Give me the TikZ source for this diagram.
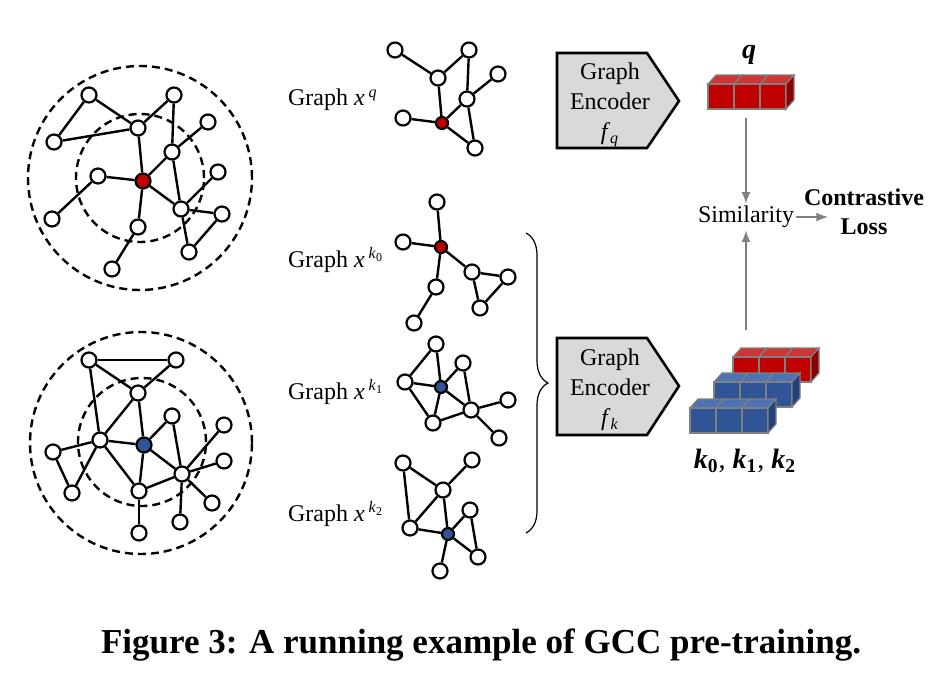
\documentclass[tikz,border=0pt]{standalone}
\usepackage{fontspec}
\setmainfont{Liberation Serif}
\usepackage{tikz}
\usetikzlibrary{decorations.pathreplacing,arrows}

\definecolor{nodered}{HTML}{C00000}
\definecolor{nodeblue}{HTML}{2F5597}
\definecolor{redtop}{HTML}{D03535}
\definecolor{redside}{HTML}{8E0000}
\definecolor{bluetop}{HTML}{4F72B3}
\definecolor{blueside}{HTML}{22407A}
\definecolor{cubeedge}{HTML}{808080}

% three cubes: x, y, front, top, side
\newcommand\cuberow[5]{%
  \foreach \i in {0,1,2}{
    \filldraw[fill=#4,draw=cubeedge,line width=0.6pt] (#1+26*\i,#2) -- (#1+26*\i+8,#2-9) -- (#1+26*\i+34,#2-9) -- (#1+26*\i+26,#2) -- cycle;
    \filldraw[fill=#3,draw=cubeedge,line width=0.6pt] (#1+26*\i,#2) rectangle (#1+26*\i+26,#2+25);
  }
  \filldraw[fill=#5,draw=cubeedge,line width=0.6pt] (#1+78,#2) -- (#1+86,#2-9) -- (#1+86,#2+16) -- (#1+78,#2+25) -- cycle;
}

\begin{document}
\begin{tikzpicture}[x=0.5pt,y=-0.5pt,
                    vtx/.style={circle,draw,fill=white,line width=1.1pt,
                    minimum size=7.5pt,inner sep=0pt},
                    ctr/.style={vtx,fill=#1},
                    smallctr/.style={vtx,fill=#1,minimum size=6pt},
                    edge/.style={line width=1.2pt},
                    ring/.style={dash pattern=on 4pt off 2.5pt,line width=1.2pt},
                    lbl/.style={font=\fontsize{12}{15}\selectfont},
                    encbox/.style={fill=black!15,draw,line width=1.3pt,line join=miter},
                    enctxt/.style={lbl,align=center,inner sep=0pt},
                    garr/.style={draw=cubeedge,line width=1pt,-latex},
                    vlbl/.style={font=\fontsize{14}{16}\selectfont},
                    brc/.style={decorate,decoration={brace,amplitude=11pt},line width=0.6pt}]
    \useasboundingbox (0,0) rectangle (934,675);

    % left: sampled neighbourhoods
    \draw[ring] (140,178) circle [radius=56pt];
    \draw[ring] (140,178) circle [radius=32pt];
    \foreach \n/\x/\y in {a1/89/95,a2/174/95,a3/54/142,a4/138/128,a5/208/122,
                          a6/172/152,a7/98/176,a8/218/172,a9/181/209,a10/222/214,
                          a11/138/227,a12/52/219,a13/189/252,a14/112/269}
        \node[vtx] (\n) at (\x,\y) {};
    \node[ctr=nodered] (ac) at (143,181) {};
    \foreach \u/\v in {a1/a3,a1/a4,a3/a4,a4/a2,a2/a6,a6/a5,a4/ac,a6/ac,ac/a7,a7/a12,
                       ac/a9,a6/a9,a9/a8,a9/a10,a10/a13,a9/a13,ac/a11,a11/a14}
        \draw[edge] (\u) -- (\v);

    \draw[ring] (141,443) circle [radius=55.5pt];
    \draw[ring] (142,442) circle [radius=32pt];
    \foreach \n/\x/\y in {b1/89/360,b2/176/360,b3/138/393,b4/172/416,b5/224/425,
                          b6/100/440,b7/53/452,b8/224/461,b9/182/474,b10/72/493,
                          b11/139/491,b12/212/503,b13/180/522,b14/139/533}
        \node[vtx] (\n) at (\x,\y) {};
    \node[ctr=nodeblue] (bc) at (144,445) {};
    \foreach \u/\v in {b1/b2,b1/b3,b2/b3,b1/b6,b3/b6,b3/bc,b6/bc,b6/b7,b7/b10,b6/b10,
                       b6/b11,bc/b11,bc/b4,bc/b9,b4/b9,b9/b5,b9/b8,b9/b12,b9/b13,
                       b11/b9,b11/b14}
        \draw[edge] (\u) -- (\v);

    % middle: subgraph instances
    \foreach \n/\x/\y in {q1/395/50,q2/469/50,q3/438/78,q4/498/74,q5/467/99,
                          q6/403/118,q7/475/148}
        \node[vtx] (\n) at (\x,\y) {};
    \node[smallctr=nodered] (qc) at (442,123) {};
    \foreach \u/\v in {q1/q3,q3/q2,q2/q5,q5/q4,q3/qc,q5/qc,q6/qc,qc/q7,q5/q7}
        \draw[edge] (\u) -- (\v);

    \foreach \n/\x/\y in {r1/437/202,r2/403/242,r3/472/272,r4/508/277,r5/436/287,
                          r6/480/308,r7/414/323}
        \node[vtx] (\n) at (\x,\y) {};
    \node[smallctr=nodered] (rc) at (441,247) {};
    \foreach \u/\v in {r1/rc,r2/rc,rc/r3,r3/r4,r3/r6,r4/r6,rc/r5,r5/r7}
        \draw[edge] (\u) -- (\v);

    \foreach \n/\x/\y in {s1/436/344,s2/463/363,s3/405/382,s4/471/410,s5/508/400,
                          s6/433/423,s7/499/438}
        \node[vtx] (\n) at (\x,\y) {};
    \node[smallctr=nodeblue] (sc) at (441,387) {};
    \foreach \u/\v in {s1/s3,s1/sc,s3/sc,s3/s6,sc/s6,sc/s4,sc/s2,s2/s4,s6/s4,s4/s5,s4/s7}
        \draw[edge] (\u) -- (\v);

    \foreach \n/\x/\y in {t1/403/463,t2/472/460,t3/443/490,t4/470/510,t5/410/528,
                          t6/478/557,t7/440/571}
        \node[vtx] (\n) at (\x,\y) {};
    \node[smallctr=nodeblue] (tc) at (448,534) {};
    \foreach \u/\v in {t1/t3,t1/t5,t3/t2,t3/t5,t3/tc,t5/tc,tc/t4,t4/t6,tc/t6,tc/t7}
        \draw[edge] (\u) -- (\v);

    \node[lbl,anchor=west] (lq) at (281,100) {Graph \textit{x}\,\textsuperscript{\textit{q}}};
    \node[lbl,anchor=west] (lk0) at (281,260) {Graph \textit{x}\,\textsuperscript{\textit{k}\textsubscript{0}}};
    \node[lbl,anchor=west] (lk1) at (281,392) {Graph \textit{x}\,\textsuperscript{\textit{k}\textsubscript{1}}};
    \node[lbl,anchor=west] (lk2) at (281,514) {Graph \textit{x}\,\textsuperscript{\textit{k}\textsubscript{2}}};

    \draw[brc] (526,233) -- (526,533);

    % encoders
    \draw[encbox] (557,53) -- (647,53) -- (679,101) -- (647,148) -- (557,148) -- cycle;
    \node[enctxt] (encq) at (610,105) {Graph\\Encoder\\\textit{f}\textsubscript{\textit{q}}};
    \draw[encbox] (557,338) -- (647,338) -- (679,386) -- (647,435) -- (557,435) -- cycle;
    \node[enctxt] (enck) at (610,390) {Graph\\Encoder\\\textit{f}\textsubscript{\textit{k}}};

    % embeddings
    \cuberow{708}{84}{nodered}{redtop}{redside}
    \cuberow{733}{357}{nodered}{redtop}{redside}
    \cuberow{714}{382}{nodeblue}{bluetop}{blueside}
    \cuberow{690}{408}{nodeblue}{bluetop}{blueside}
    \node[vlbl] (qlbl) at (749,55) {\textbf{\textit{q}}};
    \node[vlbl] (klbl) at (745,461) {\textbf{\textit{k}}\textsubscript{\textbf{0}}, \textbf{\textit{k}}\textsubscript{\textbf{1}}, \textbf{\textit{k}}\textsubscript{\textbf{2}}};

    \node[lbl,inner sep=1pt] (sim) at (746,217) {Similarity};
    \node[lbl,font=\fontsize{12}{14.5}\selectfont\bfseries,align=center] (loss) at (864,212) {Contrastive\\Loss};
    \coordinate (qv) at (746,118);
    \coordinate (kv) at (746,330);
    \coordinate (lossin) at (828,217);
    \draw[garr] (qv) -- (sim);
    \draw[garr] (kv) -- (sim);
    \draw[garr] (sim) -- (lossin);

    \node[font=\fontsize{17.5}{20}\selectfont\bfseries] (cap) at (481,645) {Figure 3: A running example of GCC pre-training.};
\end{tikzpicture}
\end{document}
